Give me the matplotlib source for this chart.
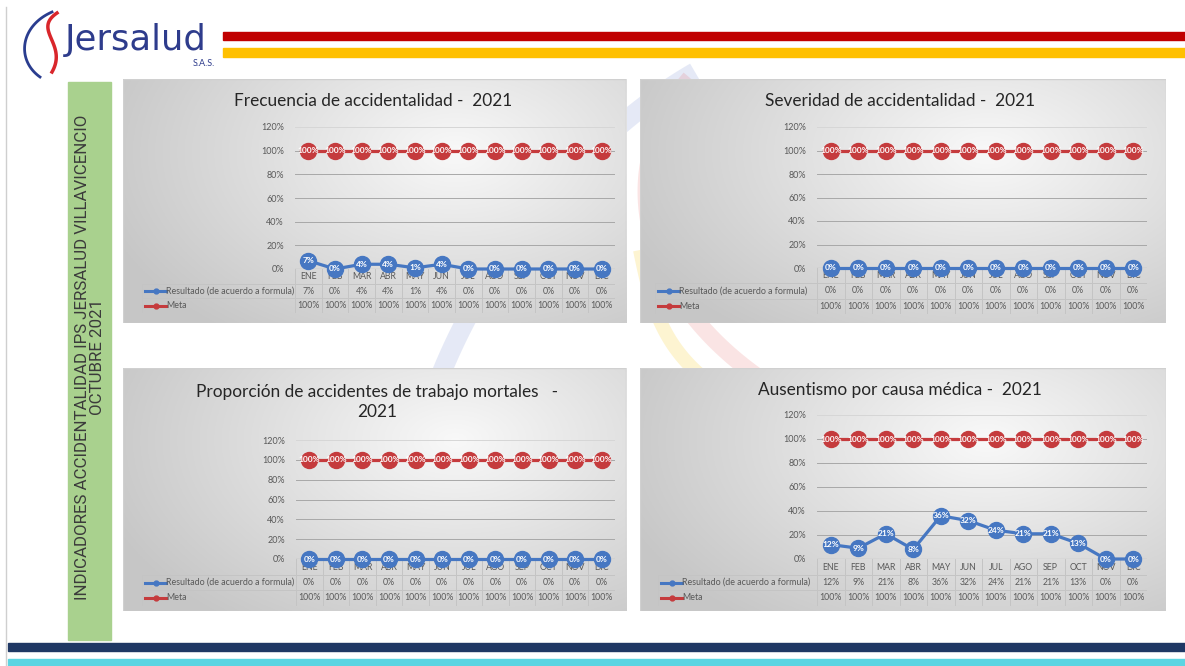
import matplotlib.pyplot as plt
import numpy as np
from matplotlib.patches import Rectangle

plt.rcParams['font.family'] = ['Lato', 'DejaVu Sans']

W, H = 1185, 666

meses = ['ENE', 'FEB', 'MAR', 'ABR', 'MAY', 'JUN', 'JUL', 'AGO', 'SEP', 'OCT', 'NOV', 'DIC']
frecuencia = [7, 0, 4, 4, 1, 4, 0, 0, 0, 0, 0, 0]
severidad = [0, 0, 0, 0, 0, 0, 0, 0, 0, 0, 0, 0]
mortales = [0, 0, 0, 0, 0, 0, 0, 0, 0, 0, 0, 0]
ausentismo = [12, 9, 21, 8, 36, 32, 24, 21, 21, 13, 0, 0]
meta = [100, 100, 100, 100, 100, 100, 100, 100, 100, 100, 100, 100]
yticks = [0, 20, 40, 60, 80, 100, 120]

AZUL = '#4677c2'
ROJO = '#c53b3d'
GRIS = '#595959'


def rect(x0, y0, x1, y1):
    # pixel box (top-left origin) -> figure fraction
    return [x0 / W, 1 - y1 / H, (x1 - x0) / W, (y1 - y0) / H]


def bez(pts, n=80):
    # cubic bezier through 4 control points
    p = np.array(pts, dtype=float)
    t = np.linspace(0, 1, n)[:, None]
    return ((1 - t) ** 3 * p[0] + 3 * (1 - t) ** 2 * t * p[1]
            + 3 * (1 - t) * t ** 2 * p[2] + t ** 3 * p[3])


fig = plt.figure(figsize=(W / 100, H / 100), dpi=100)

# slide decoration
deco = fig.add_axes([0, 0, 1, 1])
deco.set_xlim(0, W)
deco.set_ylim(H, 0)
deco.axis('off')

deco.plot([6, 6], [7, H], color='#cfcfcf', lw=1)
deco.add_patch(Rectangle((223, 32), W - 223, 8, color='#c00000'))
deco.add_patch(Rectangle((223, 48), W - 223, 9, color='#ffc000'))
deco.add_patch(Rectangle((8, 643), W - 8, 8, color='#1f3864'))
deco.add_patch(Rectangle((8, 659), W - 8, 7, color='#5bd5e2'))

# logo
c = bez([(52, 12), (20, 26), (16, 60), (40, 77)])
deco.plot(c[:, 0], c[:, 1], color='#2a3d8f', lw=2)
c = bez([(57, 13), (32, 30), (68, 44), (52, 72)])
deco.plot(c[:, 0], c[:, 1], color='#d9262b', lw=2.5)
deco.text(65, 50, 'Jersalud', fontsize=25.5, family='DejaVu Sans', color='#2e3c8c',
          va='baseline')
deco.text(215, 64, 'S.A.S.', fontsize=6.5, color='#2e3c8c', ha='right', va='center')

# faint watermark
for pts, col, lw, a in [
    ([(695, 72), (560, 150), (460, 300), (425, 420)], '#3a5bbf', 14, 0.13),
    ([(690, 78), (610, 170), (640, 300), (770, 385)], '#e0302f', 12, 0.13),
    ([(640, 250), (650, 300), (660, 340), (700, 375)], '#f5c400', 10, 0.18),
]:
    c = bez(pts)
    deco.plot(c[:, 0], c[:, 1], color=col, lw=lw, alpha=a, solid_capstyle='butt')

# green side bar
deco.add_patch(Rectangle((68, 82), 43, 558, color='#a9d18e'))
deco.text(90, 357, 'INDICADORES ACCIDENTALIDAD IPS JERSALUD VILLAVICENCIO\nOCTUBRE 2021',
          rotation=90, ha='center', va='center', multialignment='center',
          fontsize=12.2, family='Roboto', color='#3b3b3b', linespacing=0.95)


def panel(box, x0, x1, ytop, y0, rows, legx, title, title_xy, resultado):
    # gray gradient card
    bg = fig.add_axes(rect(*box))
    bg.axis('off')
    yy, xx = np.mgrid[0:1:200j, 0:1:300j]
    r = np.sqrt(((xx - 0.66) / 0.75) ** 2 + ((yy - 0.3) / 0.95) ** 2)
    g = np.clip(0.975 - 0.2 * r, 0.78, 0.975)
    bg.imshow(np.dstack([g, g, g]), extent=(0, 1, 0, 1), aspect='auto')
    bg.set_xlim(0, 1)
    bg.set_ylim(0, 1)
    bg.add_patch(Rectangle((0, 0), 1, 1, fill=False, ec='#d0d0d0', lw=1))

    fig.text(title_xy[0] / W, 1 - title_xy[1] / H, title, ha='center', va='center',
             fontsize=12.4, color='#262626', linespacing=1.3)

    colw = (x1 - x0) / 12
    left = -0.5 - (x0 - legx) / colw

    # data table below the plot
    tb = fig.add_axes(rect(legx, y0, x1, rows[-1]))
    tb.axis('off')
    tb.set_xlim(left, 11.5)
    tb.set_ylim(rows[-1] - y0, 0)
    r1, r2, r3 = rows[0] - y0, rows[1] - y0, rows[2] - y0
    lc = '#c4c4c4'
    for i in range(13):
        tb.plot([i - 0.5, i - 0.5], [0, r3], color=lc, lw=0.7)
    tb.plot([left, 11.5], [r1, r1], color=lc, lw=0.7)
    tb.plot([left, 11.5], [r2, r2], color=lc, lw=0.7)
    tb.plot([left, 11.5], [r3, r3], color=lc, lw=0.7)
    tb.plot([left, left], [r1, r3], color=lc, lw=0.7)
    for i, m in enumerate(meses):
        tb.text(i, r1 / 2, m, ha='center', va='center', fontsize=6.3, color=GRIS)
        tb.text(i, (r1 + r2) / 2, f'{resultado[i]}%', ha='center', va='center',
                fontsize=6.3, color=GRIS)
        tb.text(i, (r2 + r3) / 2, f'{meta[i]}%', ha='center', va='center',
                fontsize=6.3, color=GRIS)
    for (ya, yb), col, lab in [((r1, r2), AZUL, 'Resultado (de acuerdo a formula)'),
                               ((r2, r3), ROJO, 'Meta')]:
        ym = (ya + yb) / 2
        xa, xb = left + 3 / colw, left + 24 / colw
        tb.plot([xa, xb], [ym, ym], color=col, lw=2.2)
        tb.plot([(xa + xb) / 2], [ym], 'o', color=col, ms=3.5)
        tb.text(xb, ym, lab, ha='left', va='center', fontsize=6.4, color=GRIS)

    # plot area
    ax = fig.add_axes(rect(x0, ytop, x1, y0))
    ax.patch.set_alpha(0)
    ax.set_xlim(-0.5, 11.5)
    ax.set_ylim(0, 120)
    ax.set_yticks(yticks)
    ax.set_yticklabels([f'{t}%' for t in yticks], fontsize=6.5, color=GRIS)
    ax.tick_params(length=0, pad=8)
    ax.set_xticks([])
    for s in ax.spines.values():
        s.set_visible(False)
    for t in yticks[1:]:
        ax.axhline(t, color='#d6d6d6' if t == 120 else '#a8a8a8', lw=0.7, zorder=0)
    ax.axhline(0, color='#8c8c8c', lw=0.8, zorder=0)
    x = np.arange(12)
    for vals, col in [(meta, ROJO), (resultado, AZUL)]:
        ax.plot(x, vals, color=col, lw=2.3, marker='o', ms=11.5, clip_on=False)
        for xi, v in zip(x, vals):
            ax.text(xi, v, f'{v}%', ha='center', va='center', color='white',
                    fontsize=6, weight='bold', clip_on=False)


panel((123, 79, 626, 323), 295, 615, 127, 269, (284, 298, 313), 142,
      'Frecuencia de accidentalidad -  2021', (373, 101), frecuencia)
panel((640, 79, 1166, 323), 817, 1147, 127, 268, (283, 299, 314), 655,
      'Severidad de accidentalidad -  2021', (900, 101), severidad)
panel((123, 368, 626, 611), 296, 615, 440, 559, (575, 590, 606), 142,
      'Proporción de accidentes de trabajo mortales   -\n2021', (377, 402), mortales)
panel((640, 368, 1166, 611), 817, 1147, 415, 559, (575, 590, 606), 658,
      'Ausentismo por causa médica -  2021', (900, 390), ausentismo)

fig.savefig('out.png', dpi=100)
